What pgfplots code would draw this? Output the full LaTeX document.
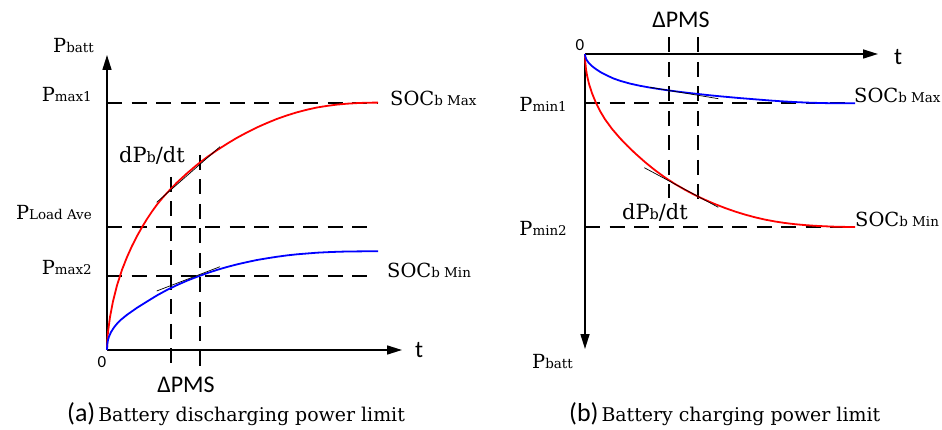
\documentclass[border=0pt]{standalone}
\usepackage{pgfplots}
\pgfplotsset{compat=1.18}
\usetikzlibrary{arrows.meta}
\usepackage{fontspec}
\setmainfont{DejaVu Serif}
\setsansfont{Carlito}
\newcommand\Lg{\fontsize{19.5}{23}\selectfont}
\newcommand\Sm{\fontsize{13.5}{16}\selectfont}
\newcommand\Cap{\fontsize{19}{23}\selectfont}
\newcommand\Sa{\sffamily\fontsize{24}{28}\selectfont}
\newcommand\Sc{\sffamily\fontsize{26}{30}\selectfont}
\newcommand\lbl[2]{{\Lg #1\Sm #2}}
\newcommand\dpdt{{\fontsize{21}{24}\selectfont dP{\fontsize{14.5}{16}\selectfont b}/dt}}
\definecolor{cred}{RGB}{255,0,0}
\definecolor{cblue}{RGB}{0,0,255}
\pgfplotsset{
  schem/.style={scale only axis, clip=false, xtick=\empty, ytick=\empty,
    enlargelimits=false, axis line style={line width=1.6bp}},
  dash/.style={line width=1.7bp, dash pattern=on 15bp off 9.5bp, black, mark=none},
  curve/.style={line width=1.8bp, mark=none, line join=round},
  tang/.style={line width=0.7bp, black, mark=none},
}
\tikzset{lab/.style={inner sep=0pt}}
\begin{document}
\begin{tikzpicture}
\useasboundingbox (0,0) rectangle (942bp,430bp);
% ---------------- (a) discharging ----------------
\begin{axis}[schem, at={(107bp,80bp)}, anchor=south west,
  width=295bp, height=295bp, xmin=0, xmax=295, ymin=0, ymax=295,
  axis lines=left,
  x axis line style={-{Triangle[length=15bp,width=9bp]}},
  y axis line style={-{Triangle[length=15bp,width=9bp]}}]
\addplot[dash] coordinates {(0,247) (271,247)};
\addplot[dash] coordinates {(0,123) (265,123)};
\addplot[dash] coordinates {(0,74) (265,74)};
\addplot[dash] coordinates {(64,173) (64,-18)};
\addplot[dash] coordinates {(93,195) (93,-18)};
\addplot[curve, cred] coordinates {(0,0) (0.3,9.4) (1,18) (3,33) (6,48.7) (10,64.6) (15,80.2) (20,92.9) (25,104) (30,113.9) (35,122.8) (40,131) (45,138.5) (50,145.4) (55,151.5) (60,157.1) (65,162.4) (70,167.5) (80,176.7) (90,185.2) (100,192.8) (110,199.8) (120,206.2) (130,212.2) (140,217.6) (150,222.6) (160,227) (170,231.1) (180,234.6) (190,237.7) (200,240.3) (210,242.5) (220,244.1) (230,245.4) (240,246.3) (250,246.9) (260,247.3) (271,247.4)};
\addplot[curve, cblue] coordinates {(0,0) (0.3,6) (1,10) (2,13.4) (4,17.9) (7,22.6) (10,26.3) (14,30.3) (20,35.2) (30,42.2) (40,48.45) (50,54.6) (60,60.05) (70,64.9) (80,69.3) (90,73.2) (100,76.8) (110,80.1) (120,83) (130,85.6) (140,87.9) (150,90) (160,91.7) (170,93.25) (180,94.6) (190,95.7) (200,96.5) (210,97.3) (220,97.8) (230,98.2) (240,98.5) (250,98.6) (260,98.7) (271,98.7)};
\addplot[tang] coordinates {(49.7,147.7) (113,203.3)};
\addplot[tang] coordinates {(49.7,59) (113,83.3)};
\node[lab, anchor=base west] at (axis cs:-54,297) {\lbl{P}{batt}};
\node[lab, anchor=base east] at (axis cs:-15,248) {\lbl{P}{max1}};
\node[lab, anchor=base east] at (axis cs:-15,130) {\lbl{P}{Load Ave}};
\node[lab, anchor=base east] at (axis cs:-15,75) {\lbl{P}{max2}};
\node[lab, anchor=base west] at (axis cs:283,244) {\lbl{SOC}{b Max}};
\node[lab, anchor=base west] at (axis cs:280,72) {\lbl{SOC}{b Min}};
\node[lab, anchor=base west] at (axis cs:12,187) {\dpdt};
\node[lab] at (axis cs:-5,-12) {\sffamily\fontsize{17}{19}\selectfont 0};
\node[lab, anchor=base west] at (axis cs:308,-7) {\Sa t};
\node[lab, anchor=base] at (axis cs:79,-42) {\Sa ΔPMS};
\node[lab, anchor=base west] at (axis cs:-40,-71) {{\Sc (a)}\hspace{3bp}{\Cap Battery discharging power limit}};
\end{axis}
% ---------------- (b) charging ----------------
\begin{axis}[schem, at={(585bp,376bp)}, anchor=north west,
  width=293bp, height=295bp, xmin=0, xmax=293, ymin=-295, ymax=0,
  axis x line=top, axis y line=left,
  x axis line style={-{Triangle[length=15bp,width=9bp]}},
  y axis line style={{Triangle[length=15bp,width=9bp]}-}]
\addplot[dash] coordinates {(0,-49) (268,-49)};
\addplot[dash] coordinates {(0,-173) (268,-173)};
\addplot[dash] coordinates {(84,16.7) (84,-144.3)};
\addplot[dash] coordinates {(113,16.7) (113,-148.3)};
\addplot[curve, cred] coordinates {(0,0) (0.3,-8.4) (1,-15.1) (2,-21.2) (4,-29.9) (7,-39.2) (11,-49) (15,-57) (20,-65.3) (27,-74.9) (35,-84.2) (42,-91.5) (50,-99.2) (60,-108.1) (70,-116.2) (80,-123.5) (90,-130) (100,-135.8) (110,-141.1) (120,-145.8) (130,-150.1) (140,-154) (150,-157.5) (160,-160.6) (170,-163.3) (180,-165.6) (190,-167.5) (200,-169) (210,-170.2) (220,-171.1) (230,-171.8) (240,-172.3) (250,-172.7) (260,-172.9) (270,-173)};
\addplot[curve, cblue] coordinates {(0,0) (0.3,-2.5) (1,-4.6) (2,-6.5) (4,-9.2) (7,-12.1) (11,-15.2) (16,-18.4) (22,-21.5) (28.3,-24.4) (35,-26.8) (45,-29.6) (55,-31.8) (65,-33.6) (75,-35.2) (85,-36.6) (95,-37.9) (105,-39.1) (115,-40.2) (125,-41.3) (135,-42.3) (145,-43.2) (155,-44.1) (165,-44.9) (175,-45.7) (185,-46.5) (195,-47.2) (205,-47.8) (215,-48.3) (225,-48.7) (235,-49) (245,-49.2) (255,-49.3) (270,-49.3)};
\addplot[tang] coordinates {(59.3,-113.7) (133.3,-153.3)};
\addplot[tang] coordinates {(65,-33.3) (133.3,-44.7)};
\node[lab] at (axis cs:-5,9) {\sffamily\fontsize{17}{19}\selectfont 0};
\node[lab, anchor=base west] at (axis cs:309,-11) {\Sa t};
\node[lab, anchor=base] at (axis cs:96,26) {\Sa ΔPMS};
\node[lab, anchor=base east] at (axis cs:-18,-58) {\lbl{P}{min1}};
\node[lab, anchor=base east] at (axis cs:-18,-182) {\lbl{P}{min2}};
\node[lab, anchor=base west] at (axis cs:269,-49) {\lbl{SOC}{b Max}};
\node[lab, anchor=base west] at (axis cs:270,-173) {\lbl{SOC}{b Min}};
\node[lab, anchor=base west] at (axis cs:37,-166) {\dpdt};
\node[lab, anchor=base west] at (axis cs:-53,-314) {\lbl{P}{batt}};
\node[lab, anchor=base west] at (axis cs:-16,-367) {{\Sc (b)}\hspace{3bp}{\Cap Battery charging power limit}};
\end{axis}
\end{tikzpicture}
\end{document}
